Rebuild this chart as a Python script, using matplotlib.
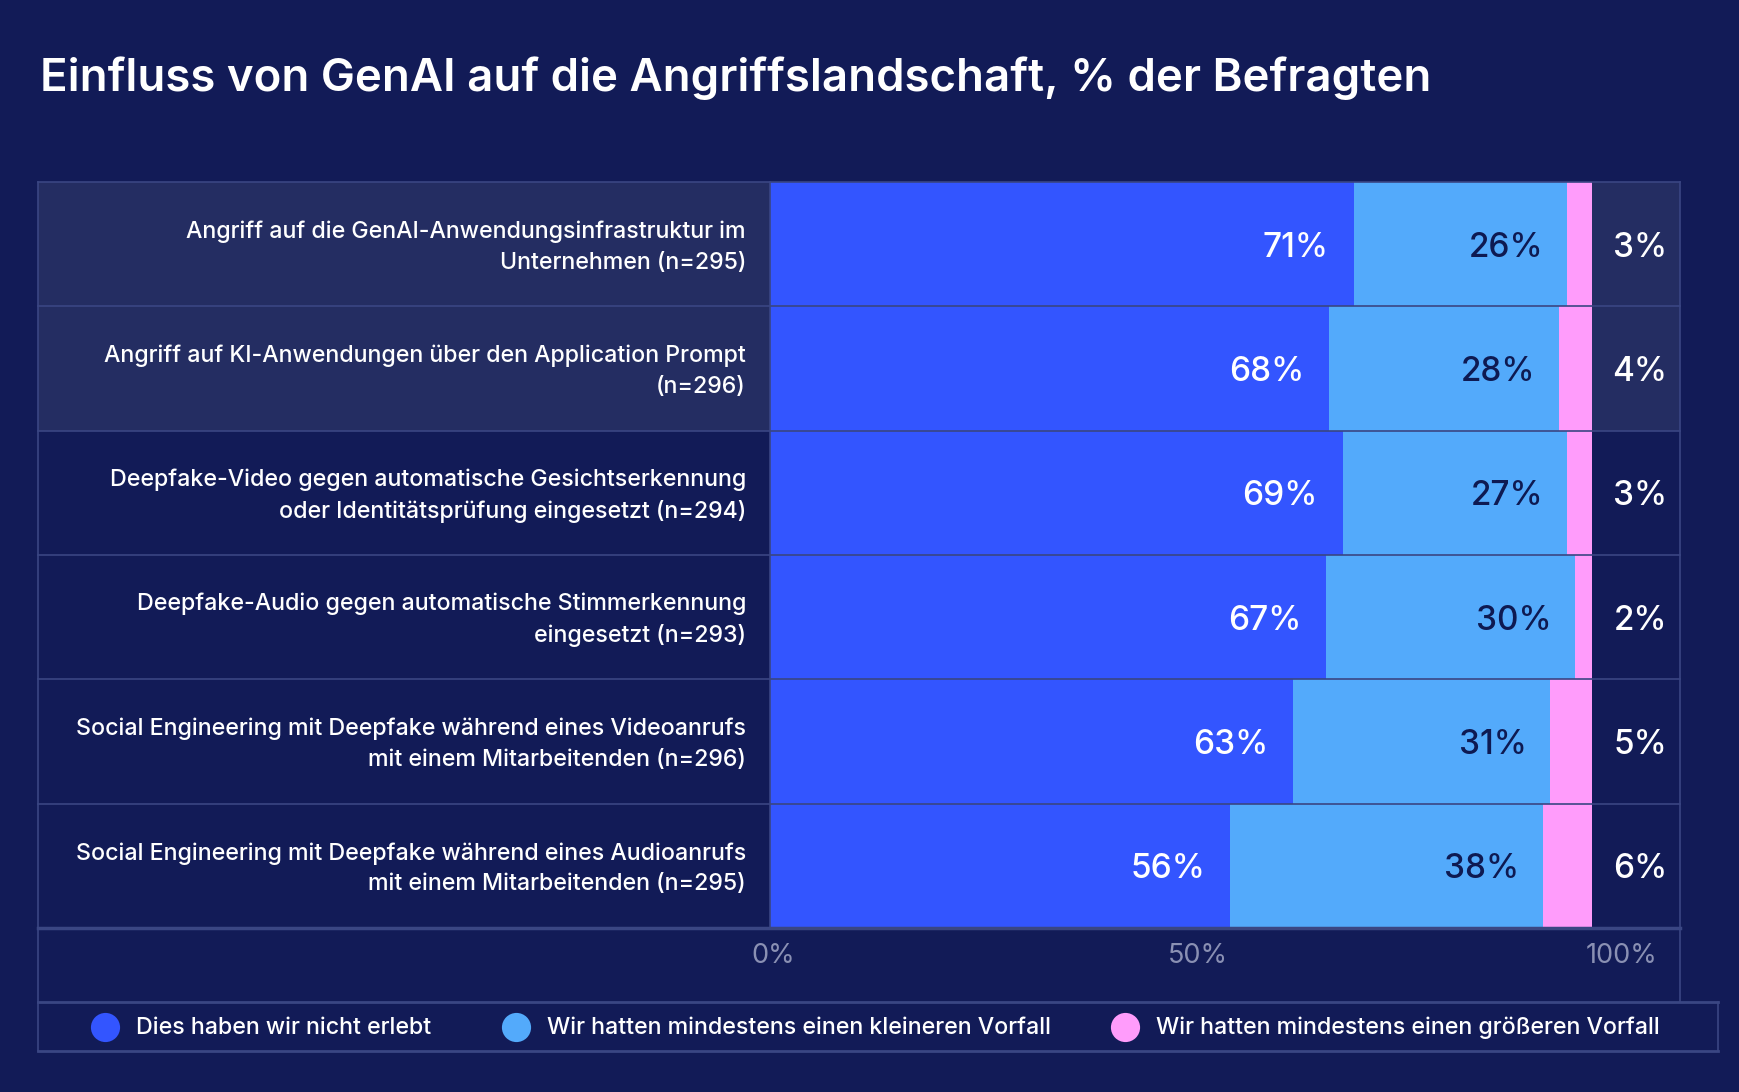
import matplotlib.pyplot as plt
from matplotlib.patches import Rectangle
from matplotlib.lines import Line2D

# data
categories = [
    'Angriff auf die GenAI-Anwendungsinfrastruktur im\nUnternehmen (n=295)',
    'Angriff auf KI-Anwendungen über den Application Prompt\n(n=296)',
    'Deepfake-Video gegen automatische Gesichtserkennung\noder Identitätsprüfung eingesetzt (n=294)',
    'Deepfake-Audio gegen automatische Stimmerkennung\neingesetzt (n=293)',
    'Social Engineering mit Deepfake während eines Videoanrufs\nmit einem Mitarbeitenden (n=296)',
    'Social Engineering mit Deepfake während eines Audioanrufs\nmit einem Mitarbeitenden (n=295)',
]
not_experienced = [71, 68, 69, 67, 63, 56]
minor_incident = [26, 28, 27, 30, 31, 38]
major_incident = [3, 4, 3, 2, 5, 6]
series_names = [
    'Dies haben wir nicht erlebt',
    'Wir hatten mindestens einen kleineren Vorfall',
    'Wir hatten mindestens einen größeren Vorfall',
]
tick_values = [0, 50, 100]

# colours
BG = '#121b57'
ROW_HI = '#242d62'
BORDER = '#3a4683'
C_DARK = '#3355ff'
C_LIGHT = '#53aafb'
C_PINK = '#ff9cfb'
NAVY = '#0e1a52'
TICK = '#8a90b3'

plt.rcParams['font.family'] = ['Inter', 'DejaVu Sans']

W, H = 1740, 1092


def fx(x):
    return x / W


def fy(y):
    return 1 - y / H


fig = plt.figure(figsize=(W / 100, H / 100), dpi=100, facecolor=BG)

# title
fig.text(fx(40), fy(91), 'Einfluss von GenAI auf die Angriffslandschaft, % der Befragten',
         color='white', fontsize=32.8, fontweight='semibold', va='baseline', ha='left')

# table geometry (pixels)
top, row_h = 182, 124.33
n = len(categories)
bottom = top + n * row_h
left_x, split_x, bar_end, right_x = 38, 770, 1592, 1680
highlight = [True, True, False, False, False, False]

# row backgrounds
for i in range(n):
    y0 = top + i * row_h
    fc = ROW_HI if highlight[i] else BG
    fig.add_artist(Rectangle((fx(left_x), fy(y0 + row_h)), fx(right_x - left_x), row_h / H,
                             transform=fig.transFigure, facecolor=fc, edgecolor='none', zorder=-2))

# bars
ax = fig.add_axes([fx(split_x), fy(bottom), fx(bar_end - split_x), (bottom - top) / H])
ax.set_xlim(0, 100)
ax.set_ylim(n - 0.5, -0.5)
ax.axis('off')

totals = [a + b + c for a, b, c in zip(not_experienced, minor_incident, major_incident)]
s1 = [v * 100 / t for v, t in zip(not_experienced, totals)]
s2 = [v * 100 / t for v, t in zip(minor_incident, totals)]
s3 = [v * 100 / t for v, t in zip(major_incident, totals)]
ys = list(range(n))
ax.barh(ys, s1, height=1.0, color=C_DARK)
ax.barh(ys, s2, left=s1, height=1.0, color=C_LIGHT)
ax.barh(ys, s3, left=[a + b for a, b in zip(s1, s2)], height=1.0, color=C_PINK)

for i in ys:
    ax.annotate(f'{not_experienced[i]}%', xy=(s1[i], i), xytext=(-18, -2.5), textcoords='offset points',
                ha='right', va='center', color='white', fontsize=24, fontweight='medium')
    ax.annotate(f'{minor_incident[i]}%', xy=(s1[i] + s2[i], i), xytext=(-17, -2.5), textcoords='offset points',
                ha='right', va='center', color=NAVY, fontsize=24, fontweight='medium')
    ax.annotate(f'{major_incident[i]}%', xy=(100, i), xytext=(54, -2.5), textcoords='offset points',
                ha='right', va='center', color='white', fontsize=24, fontweight='medium',
                annotation_clip=False)

# category labels
for i, cat in enumerate(categories):
    fig.text(fx(746), fy(top + (i + 0.5) * row_h + 3), cat, ha='right', va='center',
             color='white', fontsize=16.7, fontweight='medium', linespacing=1.5)

# grid lines
def hline(y, x0, x1, lw=1.2):
    fig.add_artist(Line2D([fx(x0), fx(x1)], [fy(y), fy(y)], color=BORDER, lw=lw, zorder=5))


def vline(x, y0, y1, lw=1.2):
    fig.add_artist(Line2D([fx(x), fx(x)], [fy(y0), fy(y1)], color=BORDER, lw=lw, zorder=5))


for k in range(n):
    hline(top + k * row_h, left_x, right_x)
hline(bottom, left_x, right_x, lw=2.5)
vline(left_x, top, 1051)
vline(split_x, top, bottom)
vline(right_x, top, 1002)
hline(1002, left_x, 1718, lw=2)
hline(1051, left_x, 1718, lw=2)
vline(1718, 1002, 1051)

# percent scale
ax_t = fig.add_axes([fx(773), fy(1001), fx(1622 - 773), 73 / H])
ax_t.set_xlim(0, 100)
ax_t.axis('off')
for t in tick_values:
    ax_t.text(t, 0.62, f'{t}%', transform=ax_t.get_xaxis_transform(), ha='center', va='center',
              color=TICK, fontsize=19.5)

# legend
legend_x = [105, 516, 1125]
for name, color, x in zip(series_names, [C_DARK, C_LIGHT, C_PINK], legend_x):
    fig.add_artist(Line2D([fx(x)], [fy(1027)], marker='o', markersize=21, color=color,
                          markeredgewidth=0, linestyle='none'))
    fig.text(fx(x + 31), fy(1028), name, ha='left', va='center', color='white',
             fontsize=16.7, fontweight='medium')

fig.savefig('out.png', dpi=100, facecolor=BG)
